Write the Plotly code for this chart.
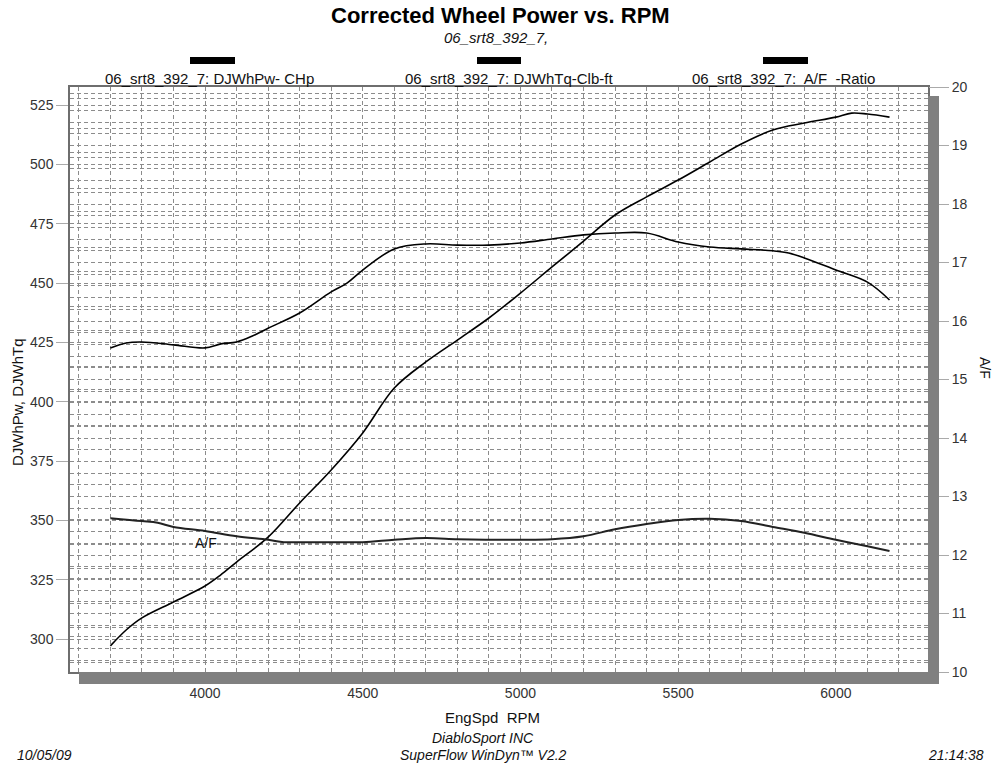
import plotly.graph_objects as go

rpm_pw = [3700, 3750, 3800, 3900, 4000, 4050, 4100, 4200, 4300, 4400, 4500, 4600, 4700, 4800,
          4900, 5000, 5100, 5200, 5300, 5400, 5500, 5600, 5700, 5800, 5900, 6000, 6050, 6100, 6170]
power = [297.2, 303.9, 309.0, 315.7, 322.4, 327.1, 332.5, 343.0, 357.4, 371.3, 386.9, 405.8, 416.8, 426.0,
         435.3, 445.8, 456.8, 467.7, 478.7, 486.3, 493.4, 501.0, 508.6, 514.5, 517.4, 519.9, 521.6, 521.2, 519.9]

rpm_tq = [3700, 3750, 3800, 3900, 4000, 4050, 4100, 4150, 4200, 4300, 4400, 4450, 4500, 4600, 4700, 4800,
          4900, 5000, 5100, 5200, 5300, 5400, 5500, 5600, 5700, 5800, 5850, 5900, 6000, 6100, 6170]
torque = [422.7, 424.8, 425.2, 424.0, 422.7, 424.4, 425.2, 427.7, 431.0, 437.4, 446.3, 450.0, 455.5, 464.4, 466.5, 466.0,
          466.0, 466.9, 468.6, 470.3, 471.1, 471.1, 467.3, 465.2, 464.4, 463.6, 462.7, 460.6, 455.5, 450.4, 442.9]

rpm_af = [3700, 3800, 3850, 3900, 4000, 4100, 4200, 4250, 4300, 4400, 4500, 4600, 4700, 4800,
          4900, 5000, 5100, 5200, 5300, 5400, 5500, 5600, 5700, 5800, 5900, 6000, 6100, 6170]
afr = [12.63, 12.58, 12.55, 12.48, 12.41, 12.32, 12.26, 12.22, 12.22, 12.22, 12.22, 12.26, 12.29, 12.27,
       12.26, 12.26, 12.27, 12.32, 12.44, 12.53, 12.60, 12.62, 12.58, 12.48, 12.38, 12.26, 12.15, 12.07]

legend_labels = ["06_srt8_392_7: DJWhPw- CHp", "06_srt8_392_7: DJWhTq-Clb-ft", "06_srt8_392_7:  A/F  -Ratio"]

# left-axis major ticks and the minor grid values between them
left_major = [300, 325, 350, 375, 400, 425, 450, 475, 500, 525]
left_minor = [v for m in left_major + [550] for v in (m - 10, m - 20)]

W, H = 1000, 764
L, R, T, B = 70, 928, 87, 672
PW, PH = R - L, B - T


def px(x):
    return (x - L) / PW


def py(y):
    return (B - y) / PH


SANS = "Liberation Sans, Arial, sans-serif"
GRID = "#8c8c8c"
DASH = "4px,3px"

fig = go.Figure()
fig.add_trace(go.Scatter(x=rpm_pw, y=power, mode="lines", line=dict(color="black", width=1.6),
                         line_shape="spline", showlegend=False, hoverinfo="skip"))
fig.add_trace(go.Scatter(x=rpm_tq, y=torque, mode="lines", line=dict(color="black", width=1.6),
                         line_shape="spline", showlegend=False, hoverinfo="skip"))
fig.add_trace(go.Scatter(x=rpm_af, y=afr, mode="lines", line=dict(color="#222222", width=2),
                         line_shape="spline", yaxis="y2", showlegend=False, hoverinfo="skip"))

tickfont = dict(family=SANS, size=14, color="#333333")

fig.update_layout(
    width=W, height=H,
    margin=dict(l=L, r=W - R, t=T, b=H - B),
    paper_bgcolor="white", plot_bgcolor="white",
    xaxis=dict(range=[3572, 6292], dtick=500, tick0=0, showgrid=True, gridcolor=GRID, griddash=DASH,
               gridwidth=1, minor=dict(dtick=100, showgrid=True, gridcolor=GRID, griddash=DASH),
               ticks="outside", ticklen=7, tickcolor="#aaaaaa", tickfont=tickfont,
               showline=True, linecolor="#6e6e6e", linewidth=1.5, mirror=True, zeroline=False),
    yaxis=dict(range=[286.2, 532.6], tickvals=left_major, showgrid=True, gridcolor=GRID, griddash=DASH,
               minor=dict(tickvals=left_minor, showgrid=True, gridcolor=GRID, griddash=DASH),
               ticks="outside", ticklen=12, tickcolor="#aaaaaa", tickfont=tickfont,
               showline=True, linecolor="#6e6e6e", linewidth=1.5, mirror=True, zeroline=False),
    yaxis2=dict(range=[10, 20], dtick=1, overlaying="y", side="right", showgrid=True, gridcolor=GRID,
                griddash=DASH,
                minor=dict(dtick=0.2, showgrid=True, gridcolor=GRID, griddash=DASH),
                ticks="outside", ticklen=20, tickcolor="#aaaaaa", tickfont=tickfont, zeroline=False,
                showline=False),
)

shapes = [
    # drop shadow
    dict(type="rect", xref="paper", yref="paper", x0=1.0, x1=px(939), y0=py(684), y1=py(96),
         fillcolor="#808080", line=dict(width=0), layer="above"),
    dict(type="rect", xref="paper", yref="paper", x0=px(79), x1=px(939), y0=py(684), y1=0,
         fillcolor="#808080", line=dict(width=0), layer="above"),
]
for x0, x1 in [(190, 235), (477, 521), (763, 808)]:
    shapes.append(dict(type="rect", xref="paper", yref="paper", x0=px(x0), x1=px(x1), y0=py(64), y1=py(57),
                       fillcolor="black", line=dict(width=0)))
fig.update_layout(shapes=shapes)

ann = []


def text(t, x, y, size=14, family=SANS, italic=False, bold=False, xanchor="center", angle=0, color="#111111"):
    s = t
    if bold:
        s = "<b>" + s + "</b>"
    if italic:
        s = "<i>" + s + "</i>"
    ann.append(dict(text=s, x=px(x), y=py(y), xref="paper", yref="paper", showarrow=False,
                    xanchor=xanchor, yanchor="middle", textangle=angle,
                    font=dict(family=family, size=size, color=color)))


text("Corrected Wheel Power vs. RPM", 500, 15, size=22, bold=True, color="black")
text("06_srt8_392_7,", 496, 37, size=15, italic=True)
for lab, cx in zip(legend_labels, [209, 509, 783]):
    text(lab, cx, 78, size=15)
text("EngSpd  RPM", 492, 717, size=15)
text("DiabloSport INC", 483, 738, size=14, italic=True)
text("SuperFlow WinDyn\u2122 V2.2", 483, 755, size=14, italic=True)
text("10/05/09", 15, 755, size=14, italic=True, xanchor="left")
text("21:14:38", 986, 755, size=14, italic=True, xanchor="right")
text("DJWhPw, DJWhTq", 17, 402, size=15, angle=-90)
text("A/F", 985, 368, size=14, angle=90)
text("A/F", 206, 543, size=14)
fig.update_layout(annotations=ann)

fig.write_html("out.html")
